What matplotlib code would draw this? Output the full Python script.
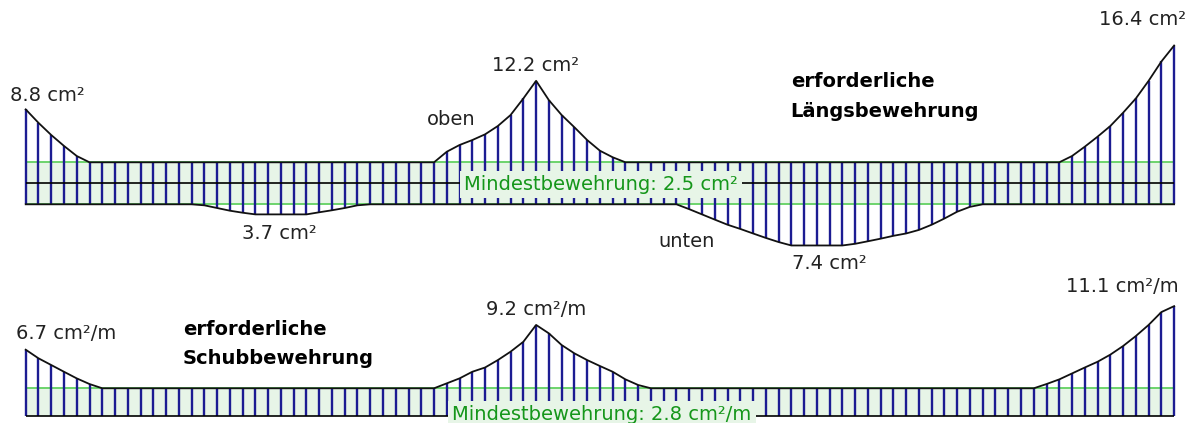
import numpy as np
import matplotlib.pyplot as plt

# Bemessungsergebnisse eines Zweifeldträgers, 91 Schnitte (Stationen 0..90)
stations = np.arange(91)

MIN_LAENGS = 2.5   # cm2
MIN_SCHUB = 2.8    # cm2/m

# obere Längsbewehrung (nur Stationen über Mindestbewehrung)
oben_idx = list(range(0, 6)) + list(range(32, 48)) + list(range(81, 91))
oben_val = [8.8, 7.2, 5.75, 4.45, 3.25, 2.5,
            2.5, 3.76, 4.56, 5.15, 5.83, 6.82, 8.13, 10.1, 12.2, 9.9, 8.13, 6.67,
            5.15, 3.88, 3.1, 2.5,
            2.5, 3.25, 4.36, 5.55, 6.82, 8.4, 10.1, 12.2, 14.5, 16.4]

# untere Längsbewehrung
unten_idx = list(range(13, 28)) + list(range(51, 76))
unten_val = [2.5, 2.62, 2.94, 3.26, 3.5, 3.7, 3.7, 3.7, 3.7, 3.7, 3.45, 3.21, 2.94, 2.62, 2.5,
             2.5, 3.08, 3.7, 4.32, 4.93, 5.43, 5.97, 6.5, 6.99, 7.4, 7.4, 7.4, 7.4, 7.4,
             7.2, 6.9, 6.59, 6.25, 5.97, 5.55, 4.93, 4.19, 3.38, 2.8, 2.5]

# Schubbewehrung
schub_idx = list(range(0, 7)) + list(range(32, 50)) + list(range(79, 91))
schub_val = [6.7, 5.83, 5.15, 4.47, 3.8, 3.23, 2.8,
             2.8, 3.3, 3.8, 4.47, 4.9, 5.65, 6.5, 7.5, 9.2, 8.35, 7.17, 6.33, 5.65,
             5.05, 4.47, 3.7, 3.13, 2.8,
             2.8, 3.23, 3.7, 4.3, 4.9, 5.48, 6.2, 7.07, 8.08, 9.2, 10.5, 11.1]

oben = np.full(len(stations), MIN_LAENGS)
oben[oben_idx] = oben_val
unten = np.full(len(stations), MIN_LAENGS)
unten[unten_idx] = unten_val
schub = np.full(len(stations), MIN_SCHUB)
schub[schub_idx] = schub_val

# STYLE
NAVY = '#1c1c92'
FILL = '#e7f5e7'
GREEN_LINE = '#6cd46c'
GREEN_TEXT = '#15961a'
TEXT = '#222222'
FS = 14
plt.rcParams['font.family'] = ['DejaVu Sans']

fig = plt.figure(figsize=(11.86, 4.23), dpi=100)
fig.patch.set_facecolor('white')
ax_top = fig.add_axes([0, 1 - 280 / 423, 1, 280 / 423])
ax_bot = fig.add_axes([0, 0, 1, 143 / 423])

xlim = (-2.014, 90.93)
for ax in (ax_top, ax_bot):
    ax.set_xlim(*xlim)
    ax.set_axis_off()
ax_top.set_ylim(-11.51, 21.82)
ax_bot.set_ylim(-0.707, 13.74)

x0, x1 = stations[0], stations[-1]

# --- Längsbewehrung ---
ax_top.fill_between([x0, x1], -MIN_LAENGS, MIN_LAENGS, color=FILL, lw=0, zorder=1)
ax_top.hlines([MIN_LAENGS, -MIN_LAENGS], x0, x1, colors=GREEN_LINE, lw=1.4, zorder=2)
ax_top.vlines(stations, -unten, oben, colors=NAVY, lw=1.7, zorder=3)
ax_top.hlines(0, x0, x1, colors='black', lw=1.2, zorder=3)
ax_top.plot(stations, oben, color='#111111', lw=1.3, zorder=4)
ax_top.plot(stations, -unten, color='#111111', lw=1.3, zorder=4)

ax_top.text(-1.23, 9.83, '8.8 cm²', fontsize=FS, color=TEXT, ha='left', va='baseline')
ax_top.text(39.98, 13.4, '12.2 cm²', fontsize=FS, color=TEXT, ha='center', va='baseline')
ax_top.text(87.55, 18.85, '16.4 cm²', fontsize=FS, color=TEXT, ha='center', va='baseline')
ax_top.text(33.37, 6.94, 'oben', fontsize=FS, color=TEXT, ha='center', va='baseline')
ax_top.text(19.9, -6.67, '3.7 cm²', fontsize=FS, color=TEXT, ha='center', va='baseline')
ax_top.text(51.79, -7.55, 'unten', fontsize=FS, color=TEXT, ha='center', va='baseline')
ax_top.text(62.97, -10.24, '7.4 cm²', fontsize=FS, color=TEXT, ha='center', va='baseline')
ax_top.text(59.95, 11.5, 'erforderliche', fontsize=FS, fontweight='bold', color='black',
            ha='left', va='baseline')
ax_top.text(59.95, 7.93, 'Längsbewehrung', fontsize=FS, fontweight='bold', color='black',
            ha='left', va='baseline')
ax_top.text(45.07, -0.8, f'Mindestbewehrung: {MIN_LAENGS} cm²', fontsize=FS, color=GREEN_TEXT,
            ha='center', va='baseline', zorder=6,
            bbox=dict(boxstyle='square,pad=0.22', facecolor=FILL, edgecolor='none'))

# --- Schubbewehrung ---
ax_bot.fill_between([x0, x1], 0, MIN_SCHUB, color=FILL, lw=0, zorder=1)
ax_bot.hlines(MIN_SCHUB, x0, x1, colors=GREEN_LINE, lw=1.4, zorder=2)
ax_bot.vlines(stations, 0, schub, colors=NAVY, lw=1.7, zorder=3)
ax_bot.hlines(0, x0, x1, colors='black', lw=1.2, zorder=4)
ax_bot.plot(stations, schub, color='#111111', lw=1.3, zorder=4)

ax_bot.text(-0.76, 7.75, '6.7 cm²/m', fontsize=FS, color=TEXT, ha='left', va='baseline')
ax_bot.text(39.98, 10.2, '9.2 cm²/m', fontsize=FS, color=TEXT, ha='center', va='baseline')
ax_bot.text(85.94, 12.56, '11.1 cm²/m', fontsize=FS, color=TEXT, ha='center', va='baseline')
ax_bot.text(12.3, 8.18, 'erforderliche', fontsize=FS, fontweight='bold', color='black',
            ha='left', va='baseline')
ax_bot.text(12.3, 5.25, 'Schubbewehrung', fontsize=FS, fontweight='bold', color='black',
            ha='left', va='baseline')
ax_bot.text(45.14, -0.4, f'Mindestbewehrung: {MIN_SCHUB} cm²/m', fontsize=FS, color=GREEN_TEXT,
            ha='center', va='baseline', zorder=6,
            bbox=dict(boxstyle='square,pad=0.22', facecolor=FILL, edgecolor='none'))

fig.savefig('out.png', dpi=100, facecolor='white')
